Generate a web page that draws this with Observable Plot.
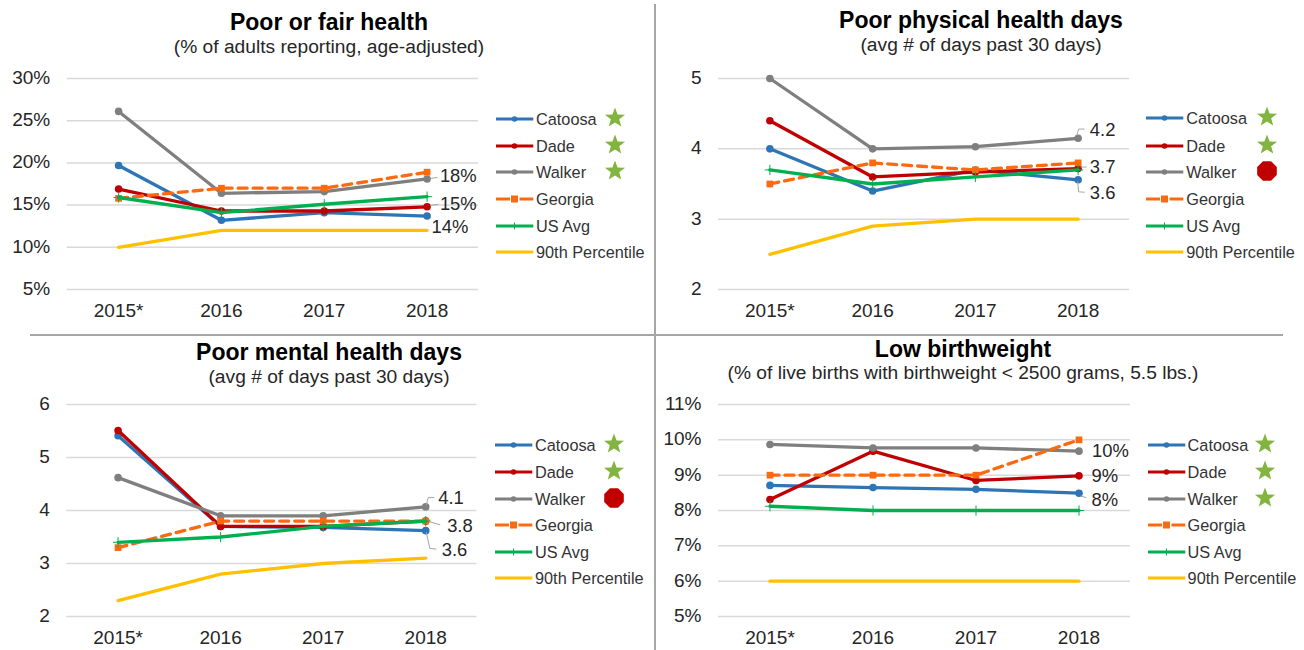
<!DOCTYPE html>
<html>
<head>
<meta charset="utf-8">
<script src="https://cdn.jsdelivr.net/npm/d3@7"></script>
<script src="https://cdn.jsdelivr.net/npm/@observablehq/plot@0.6"></script>
<style>
  html, body { margin: 0; padding: 0; background: #fff; }
  #page { position: relative; width: 1304px; height: 650px; overflow: hidden; font-family: "Liberation Sans", Arial, sans-serif; color: #262626; }
  .panel { position: absolute; width: 652px; height: 326px; }
  .panel svg.plot { position: absolute; left: 0; top: 0; }
  .title, .sub { position: absolute; white-space: nowrap; transform: translate(-50%, -50%); line-height: 1; }
  .title { font-weight: 700; font-size: 23px; color: #000; }
  .sub { font-size: 19.2px; color: #262626; }
  .lg { position: absolute; height: 20px; white-space: nowrap; font-size: 16.3px; line-height: 20px; color: #333; }
  .lg svg { position: absolute; left: 0; top: 0; }
  .lg span { position: absolute; left: 41px; top: 0; }
  .badge { position: absolute; }
  .rule { position: absolute; background: #a6a6a6; }
</style>
</head>
<body>
<div id="page"></div>
<script>
// ---------- shared categories ----------
const years = ["2015*", "2016", "2017", "2018"];
const seriesNames = ["Catoosa", "Dade", "Walker", "Georgia", "US Avg", "90th Percentile"];
const seriesColors = ["#2e75b6", "#c00000", "#7f7f7f", "#fb6a10", "#00b050", "#ffc000"];

// ---------- Poor or fair health (%) ----------
const fairCatoosa = [19.7, 13.2, 14.1, 13.7];
const fairDade    = [16.9, 14.3, 14.3, 14.8];
const fairWalker  = [26.1, 16.4, 16.6, 18.1];
const fairGeorgia = [15.8, 17, 17, 18.9];
const fairUS      = [15.9, 14.1, 15.1, 16];
const fair90      = [10, 12, 12, 12];
const fairTicks   = [5, 10, 15, 20, 25, 30];

// ---------- Poor physical health days ----------
const physCatoosa = [4.0, 3.4, 3.7, 3.56];
const physDade    = [4.4, 3.6, 3.67, 3.72];
const physWalker  = [5.0, 4.0, 4.03, 4.15];
const physGeorgia = [3.5, 3.8, 3.7, 3.8];
const physUS      = [3.7, 3.5, 3.6, 3.7];
const phys90      = [2.5, 2.9, 3.0, 3.0];
const physTicks   = [2, 3, 4, 5];

// ---------- Poor mental health days ----------
const mentCatoosa = [5.41, 3.7, 3.68, 3.62];
const mentDade    = [5.51, 3.7, 3.7, 3.8];
const mentWalker  = [4.62, 3.9, 3.9, 4.07];
const mentGeorgia = [3.3, 3.8, 3.8, 3.8];
const mentUS      = [3.4, 3.5, 3.7, 3.8];
const ment90      = [2.3, 2.8, 3.0, 3.1];
const mentTicks   = [2, 3, 4, 5, 6];

// ---------- Low birthweight (%) ----------
const birthCatoosa = [8.71, 8.65, 8.6, 8.49];
const birthDade    = [8.31, 9.68, 8.85, 8.98];
const birthWalker  = [9.87, 9.77, 9.77, 9.68];
const birthGeorgia = [9, 9, 9, 10];
const birthUS      = [8.12, 8, 8, 8];
const birth90      = [6, 6, 6, 6];
const birthTicks   = [5, 6, 7, 8, 9, 10, 11];

const pct = d => d + "%";
const panels = [
  { left: 0, top: 0, gL: 66.7, gR: 478, gT: 78, gB: 289, title: "Poor or fair health", tx: 329, ty: 22,
    sub: "(% of adults reporting, age-adjusted)", sx: 329, sy: 47,
    rows: [fairCatoosa, fairDade, fairWalker, fairGeorgia, fairUS, fair90], ticks: fairTicks, fmt: pct,
    lgX: 495, lgY: [119, 146, 172, 199, 226, 252], badgeX: 615, badges: ["star", "star", "star"],
    callouts: [
      { text: "18%", s: 2, dx: 12.8, dy: -3, leader: [[4, 0], [11, -1]] },
      { text: "15%", s: 1, dx: 12.8, dy: -3, leader: [[4, -1], [12, -2]] },
      { text: "14%", s: 0, dx: 4.5, dy: 11 }
    ] },
  { left: 652, top: 0, gL: 66, gR: 477, gT: 78, gB: 289, title: "Poor physical health days", tx: 981, ty: 20,
    sub: "(avg # of days past 30 days)", sx: 981, sy: 45,
    rows: [physCatoosa, physDade, physWalker, physGeorgia, physUS, phys90], ticks: physTicks, fmt: d => d,
    lgX: 1145.3, lgY: [118, 146, 172, 199, 226, 252], badgeX: 1267.3, badges: ["star", "star", "stop"],
    callouts: [
      { text: "4.2", s: 2, dx: 11.7, dy: -8, leader: [[-1, -2], [1, -8.7], [7, -8.7]] },
      { text: "3.7", s: 1, dx: 11.7, dy: -1, leader: [[3, -1], [9, -1]] },
      { text: "3.6", s: 0, dx: 11.7, dy: 13, leader: [[0, 2], [1, 12.5], [7, 13]] }
    ] },
  { left: 0, top: 326, gL: 66.3, gR: 476.5, gT: 78, gB: 290, title: "Poor mental health days", tx: 329, ty: 26,
    sub: "(avg # of days past 30 days)", sx: 329, sy: 51,
    rows: [mentCatoosa, mentDade, mentWalker, mentGeorgia, mentUS, ment90], ticks: mentTicks, fmt: d => d,
    lgX: 494, lgY: [119, 146, 173, 199, 226, 252], badgeX: 614, badges: ["star", "star", "stop"],
    callouts: [
      { text: "4.1", s: 2, dx: 12.5, dy: -9, leader: [[1, -1.3], [3, -8.7], [9, -8.7]] },
      { text: "3.8", s: 1, dx: 21.4, dy: 4.7, leader: [[4, 1], [15, 4.3]] },
      { text: "3.6", s: 0, dx: 16, dy: 19.3, leader: [[1, 2], [4.6, 18.3], [11, 19]] }
    ] },
  { left: 652, top: 326, gL: 66, gR: 478, gT: 78, gB: 290, title: "Low birthweight", tx: 963, ty: 23,
    sub: "(% of live births with birthweight < 2500 grams, 5.5 lbs.)", sx: 963, sy: 47,
    rows: [birthCatoosa, birthDade, birthWalker, birthGeorgia, birthUS, birth90], ticks: birthTicks, fmt: pct,
    lgX: 1146.6, lgY: [119, 146, 173, 199, 226, 252], badgeX: 1265, badges: ["star", "star", "star"],
    callouts: [
      { text: "10%", s: 2, dx: 13, dy: 0 },
      { text: "9%", s: 1, dx: 12.5, dy: 0 },
      { text: "8%", s: 0, dx: 12.5, dy: 6.7, leader: [[2, 3.3], [8, 5]] }
    ] }
];

const svgNS = "http://www.w3.org/2000/svg";
const page = document.getElementById("page");

function leaderMark(value, pts) {
  return (index, scales) => {
    const x0 = scales.x(3), y0 = scales.y(value);
    const p = document.createElementNS(svgNS, "polyline");
    p.setAttribute("points", pts.map(([a, b]) => `${x0 + a},${y0 + b}`).join(" "));
    p.setAttribute("fill", "none");
    p.setAttribute("stroke", "#a6a6a6");
    p.setAttribute("stroke-width", "1");
    return p;
  };
}

function seriesMarks(rows) {
  const marks = [];
  rows.forEach((vals, s) => {
    const data = years.map((_, i) => ({ i, v: vals[i] }));
    const color = seriesColors[s];
    marks.push(Plot.line(data, {
      x: "i", y: "v", stroke: color, strokeWidth: 3.3, curve: "linear",
      strokeDasharray: s === 3 ? "9 6" : null
    }));
    if (s <= 2) marks.push(Plot.dot(data, { x: "i", y: "v", r: 3.8, fill: color, stroke: "none" }));
    if (s === 3) marks.push(Plot.dot(data, { x: "i", y: "v", r: 3.8, symbol: "square", fill: color, stroke: "none" }));
    if (s === 4) marks.push(Plot.dot(data, { x: "i", y: "v", r: 3.4, symbol: "plus", stroke: color, strokeWidth: 1 }));
  });
  return marks;
}

function swatch(s) {
  const color = seriesColors[s];
  const dash = s === 3 ? ' stroke-dasharray="14 9.5 14"' : "";
  let marker = "";
  if (s <= 2) marker = `<circle cx="19.5" cy="10" r="2.8" fill="${color}"/>`;
  if (s === 3) marker = `<rect x="16" y="6.5" width="7" height="7" fill="${color}"/>`;
  if (s === 4) marker = `<path d="M19.5 6.5V13.5M16 10H23" stroke="${color}" stroke-width="1"/>`;
  return `<svg width="40" height="20"><line x1="1" y1="10" x2="38.3" y2="10" stroke="${color}" stroke-width="3.2"${dash}/>${marker}</svg>`;
}

function badge(kind, cx, cy) {
  const el = document.createElementNS(svgNS, "svg");
  el.setAttribute("width", 24); el.setAttribute("height", 24);
  el.setAttribute("viewBox", "-12 -12 24 24");
  el.classList.add("badge");
  el.style.left = (cx - 12) + "px";
  el.style.top = (cy - 12) + "px";
  const shape = document.createElementNS(svgNS, "polygon");
  const n = kind === "star" ? 5 : 8;
  const pts = [];
  if (kind === "star") {
    for (let k = 0; k < 10; k++) {
      const r = k % 2 ? 4.4 : 10.6, a = -Math.PI / 2 + k * Math.PI / 5;
      pts.push(`${r * Math.cos(a)},${r * Math.sin(a)}`);
    }
    shape.setAttribute("fill", "#82b440");
  } else {
    for (let k = 0; k < n; k++) {
      const a = Math.PI / 8 + k * Math.PI / 4;
      pts.push(`${10.6 * Math.cos(a)},${10.6 * Math.sin(a)}`);
    }
    shape.setAttribute("fill", "#c00000");
  }
  shape.setAttribute("points", pts.join(" "));
  el.appendChild(shape);
  return el;
}

for (const p of panels) {
  const div = document.createElement("div");
  div.className = "panel";
  div.style.left = p.left + "px";
  div.style.top = p.top + "px";
  const W = 652, H = 326;
  const marks = [
    Plot.gridY({ ticks: p.ticks, stroke: "#d9d9d9", strokeOpacity: 1, strokeWidth: 1.5 }),
    Plot.axisY({ ticks: p.ticks, tickFormat: p.fmt, tickSize: 0, tickPadding: 17, fontSize: 19, fill: "#262626", dy: -0.7 }),
    Plot.axisX({ ticks: [0, 1, 2, 3], tickFormat: i => years[i], tickSize: 0, tickPadding: 14, fontSize: 19, fill: "#262626" }),
    ...seriesMarks(p.rows)
  ];
  for (const c of p.callouts) {
    const val = p.rows[c.s][3];
    if (c.leader) marks.push(leaderMark(val, c.leader));
    marks.push(Plot.text([c], {
      x: () => 3, y: () => val, text: "text", dx: c.dx, dy: c.dy,
      textAnchor: "start", fontSize: 18.4, fill: "#262626"
    }));
  }
  const chart = Plot.plot({
    width: W, height: H,
    marginLeft: p.gL, marginRight: W - p.gR, marginTop: p.gT, marginBottom: H - p.gB,
    x: { domain: [-0.5, 3.5], label: null, axis: null },
    y: { domain: d3.extent(p.ticks), label: null, axis: null },
    style: { background: "transparent", fontFamily: '"Liberation Sans", Arial, sans-serif', overflow: "visible" },
    marks
  });
  chart.classList.add("plot");
  div.appendChild(chart);
  page.appendChild(div);

  // titles
  const t = document.createElement("div");
  t.className = "title"; t.textContent = p.title;
  t.style.left = (p.tx - p.left) + "px"; t.style.top = p.ty + "px";
  div.appendChild(t);
  const st = document.createElement("div");
  st.className = "sub"; st.textContent = p.sub;
  st.style.left = (p.sx - p.left) + "px"; st.style.top = p.sy + "px";
  div.appendChild(st);

  // legend
  seriesNames.forEach((name, s) => {
    const row = document.createElement("div");
    row.className = "lg";
    row.style.left = (p.lgX - p.left) + "px";
    row.style.top = (p.lgY[s] - 10) + "px";
    row.innerHTML = swatch(s) + `<span>${name}</span>`;
    div.appendChild(row);
    if (p.badges[s]) div.appendChild(badge(p.badges[s], p.badgeX - p.left, p.lgY[s] - 1));
  });
}

// panel dividers
const vRule = document.createElement("div");
vRule.className = "rule";
vRule.style.cssText = "left:654px;top:4px;width:1.5px;height:646px;";
page.appendChild(vRule);
const hRule = document.createElement("div");
hRule.className = "rule";
hRule.style.cssText = "left:30px;top:334px;width:1253px;height:1.6px;";
page.appendChild(hRule);
</script>
</body>
</html>
